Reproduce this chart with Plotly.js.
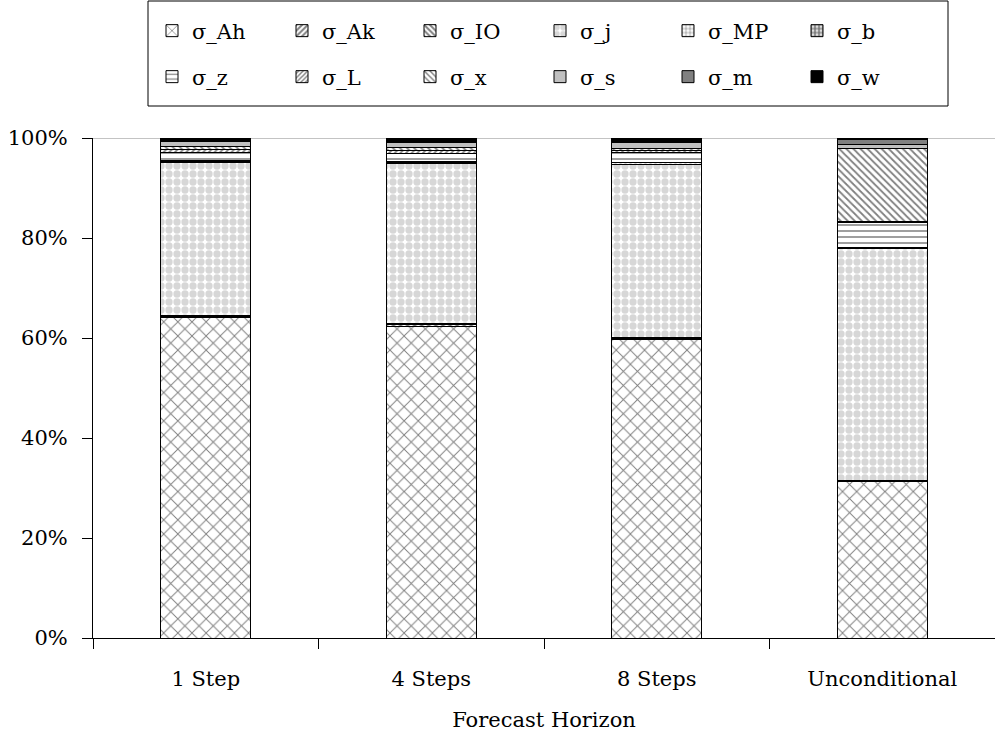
<!DOCTYPE html>
<html><head><meta charset="utf-8">
<script src="https://cdn.plot.ly/plotly-3.0.1.min.js"></script>
<style>html,body{margin:0;padding:0;background:#fff}</style>
</head><body><div id="chart" style="width:995px;height:742px"></div>
<script>
const categories = ["1 Step", "4 Steps", "8 Steps", "Unconditional"];
const seriesNames = ["σ_Ah","σ_Ak","σ_IO","σ_j","σ_MP","σ_b","σ_z","σ_L","σ_x","σ_s","σ_m","σ_w"];
const sigma_Ah = [64.1, 62.4, 59.7, 31.3];
const sigma_Ak = [0.3, 0.3, 0.2, 0.1];
const sigma_IO = [0.2, 0.2, 0.2, 0.1];
const sigma_j  = [30.6, 32.1, 34.7, 46.4];
const sigma_MP = [0.2, 0.2, 0.3, 0.1];
const sigma_b  = [0.1, 0.1, 0.1, 0.1];
const sigma_z  = [1.6, 1.7, 2.0, 5.0];
const sigma_L  = [0.6, 0.6, 0.3, 0.2];
const sigma_x  = [0.6, 0.6, 0.4, 14.6];
const sigma_s  = [1.0, 1.0, 1.3, 0.8];
const sigma_m  = [0.1, 0.1, 0.1, 1.1];
const sigma_w  = [0.6, 0.7, 0.7, 0.2];
const yTickVals = [0, 20, 40, 60, 80, 100];
const yTickText = ["0%", "20%", "40%", "60%", "80%", "100%"];

const values = [sigma_Ah, sigma_Ak, sigma_IO, sigma_j, sigma_MP, sigma_b, sigma_z, sigma_L, sigma_x, sigma_s, sigma_m, sigma_w];
const styles = [
  {bg:"#fff", fg:"#000", shape:"x", size:10, sol:0.18},
  {bg:"#fff", fg:"#000", shape:"/", size:5, sol:0.5},
  {bg:"#fff", fg:"#000", shape:"\\", size:5, sol:0.5},
  {bg:"#fff", fg:"#b0b0b0", shape:".", size:8, sol:0.65},
  {bg:"#fff", fg:"#777", shape:".", size:5, sol:0.6},
  {bg:"#fff", fg:"#000", shape:".", size:5, sol:0.7},
  {bg:"#fff", fg:"#000", shape:"-", size:6, sol:0.25},
  {bg:"#fff", fg:"#000", shape:"/", size:4, sol:0.45},
  {bg:"#fff", fg:"#000", shape:"\\", size:5, sol:0.35},
  {bg:"#c0c0c0", fg:"#c0c0c0", shape:"", size:8, sol:0.3},
  {bg:"#808080", fg:"#808080", shape:"", size:8, sol:0.3},
  {bg:"#000", fg:"#000", shape:"", size:8, sol:0.3}
];
const font = {family:"DejaVu Serif, Liberation Serif, serif", size:21, color:"#000"};

// legend layout: 6 columns x 2 rows (container px)
const legendTextX = [192, 322, 450, 580, 708, 837];
const legendRowY = [31, 77];
const TEXT_OFFSET = 40;

const traces = seriesNames.map((n,i)=>({
  type:"bar", name:n, x:categories, y:values[i],
  legend: i===0 ? "legend" : "legend" + (i+1),
  marker:{color:styles[i].bg, line:{color:"#000", width:1},
    pattern:{shape:styles[i].shape, fgcolor:styles[i].fg, bgcolor:styles[i].bg, size:styles[i].size, solidity:styles[i].sol, fillmode:"overlay"}},
  hoverinfo:"name+y"
}));

const layout = {
  width:995, height:742,
  margin:{l:93, r:0, t:138, b:104, autoexpand:false},
  paper_bgcolor:"#fff", plot_bgcolor:"#fff",
  barmode:"stack", bargap:0.6,
  font:font,
  showlegend:true,
  xaxis:{type:"category", showline:true, linecolor:"#000", linewidth:1, ticks:"outside", tickson:"boundaries", ticklen:10, tickcolor:"#000",
    ticklabelstandoff:22,
    title:{text:"Forecast Horizon", font:font, standoff:22}, tickfont:font, showgrid:false},
  yaxis:{range:[0,100], tickvals:yTickVals, ticktext:yTickText, showline:true, linecolor:"#000", linewidth:1, ticks:"outside", ticklen:10, tickcolor:"#000",
    ticklabelstandoff:10, showgrid:false, zeroline:false, tickfont:font},
  shapes:[
    {type:"line", xref:"paper", yref:"y", x0:0, x1:1, y0:100, y1:100, line:{color:"#888", width:1}, layer:"below"},
    {type:"rect", xref:"paper", yref:"paper", x0:(148-93)/902, x1:(948-93)/902, y0:1+(138-106)/500, y1:1+(138-1)/500, line:{color:"#000", width:1}}
  ]
};
for (let i=0;i<12;i++){
  const key = i===0 ? "legend" : "legend"+(i+1);
  const col = i%6, row = Math.floor(i/6);
  layout[key] = {xref:"container", yref:"container", x:(legendTextX[col]-TEXT_OFFSET)/995, y:1-legendRowY[row]/742,
    xanchor:"left", yanchor:"middle", font:font, bgcolor:"rgba(0,0,0,0)", borderwidth:0, orientation:"v"};
}
Plotly.newPlot("chart", traces, layout, {displayModeBar:false});
</script></body></html>
